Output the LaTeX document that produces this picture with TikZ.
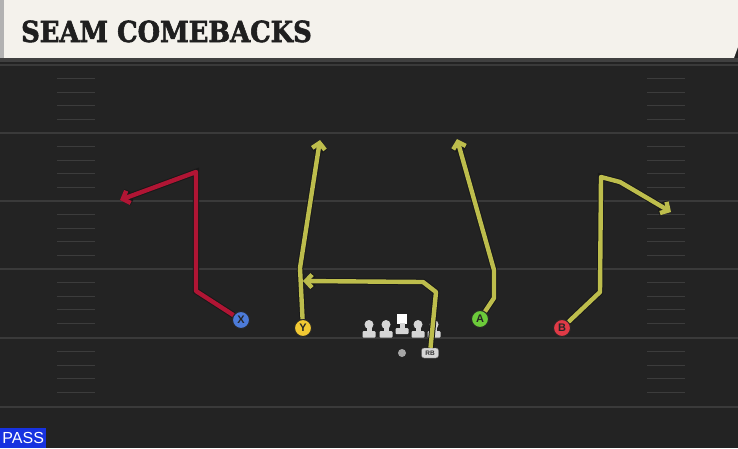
\documentclass[tikz,border=0pt]{standalone}
\usepackage{fontspec}
\setmainfont{Liberation Sans}
\newfontfamily\titlefont{DejaVu Serif}[FakeStretch=0.89, FakeBold=2]
\usetikzlibrary{arrows.meta}

\definecolor{fieldbg}{HTML}{232323}
\definecolor{yardgray}{HTML}{3A3A3A}
\definecolor{hashgray}{HTML}{3C3C3C}
\definecolor{headercream}{HTML}{F4F2EC}
\definecolor{passblue}{HTML}{1732E0}
\definecolor{xblue}{HTML}{4C7BD9}
\definecolor{yyellow}{HTML}{F2C933}
\definecolor{agreen}{HTML}{6CCB3A}
\definecolor{bred}{HTML}{E03A46}
\definecolor{redroute}{HTML}{B01534}
\definecolor{olroute}{HTML}{BDBD4C}
\definecolor{linegray}{HTML}{D6D6D6}

\begin{document}
\begin{tikzpicture}[x=1pt, y=-1pt,
    yard/.style={draw=yardgray, line width=1.4pt},
    hashmark/.style={draw=hashgray, line width=1.2pt},
    player/.style={circle, draw=black!85, line width=1pt, minimum size=17pt, inner sep=0pt,
        font=\bfseries\fontsize{11}{11}\selectfont, text=black!85},
    route/.style={line width=4.4pt, line join=round,
        -{Straight Barb[length=6pt, width=13pt]},
        preaction={draw=black!90, line width=6.4pt}},
    lineman/.style={fill=linegray}]
    \useasboundingbox (0,0) rectangle (738,448);
    \fill[fieldbg] (0,0) rectangle (738,448);

    % Header
    \fill[headercream] (4,0) -- (738,0) -- (738,47) -- (734,58) -- (4,58) -- cycle;
    \fill[gray!60] (0,0) rectangle (4,58);
    \fill[black!75] (0,58) rectangle (738,62);
    \node[anchor=base west, inner sep=0pt, text=black!88,
        font=\titlefont\bfseries\fontsize{29}{29}\selectfont] (title) at (21,42) {SEAM COMEBACKS};

    % Lignes de yards
    \foreach \y in {65,133,201,269,338,407}{
        \draw[yard] (0,\y) -- (738,\y);
    }
    % Hash marks
    \foreach \y in {65,133,201,269,338}{
        \foreach \k in {1,2,3,4}{
            \draw[hashmark] (57,\y+\k*13.6) -- (95,\y+\k*13.6);
            \draw[hashmark] (647,\y+\k*13.6) -- (685,\y+\k*13.6);
        }
    }

    % Ligne offensive
    \foreach \x in {369,386,418,434}{
        \fill[lineman] (\x,324.5) circle (4.5);
        \fill[lineman] (\x-2.5,325) rectangle (\x+2.5,333);
        \fill[lineman, rounded corners=1pt] (\x-6.5,331) rectangle (\x+6.5,337.5);
    }
    \fill[white] (397,313.5) rectangle (407,323.5);
    \fill[lineman] (399.5,323) rectangle (404.5,330);
    \fill[lineman, rounded corners=1pt] (395.5,328) rectangle (408.5,334);

    % Joueurs
    \node[player, fill=xblue] (X) at (241,320) {X};
    \node[player, fill=yyellow] (Y) at (303,328) {Y};
    \node[player, fill=agreen] (A) at (480,319) {A};
    \node[player, fill=bred] (B) at (562,328) {B};
    \node[circle, fill=gray!70, minimum size=8pt, inner sep=0pt] (QB) at (402,353) {};
    \node[draw=black!60, fill=linegray, rounded corners=2.5pt, minimum width=17pt, minimum height=10pt,
        inner sep=0pt, font=\bfseries\fontsize{6.5}{6.5}\selectfont, text=black!80] (RB) at (430,353) {RB};

    % Fins de routes
    \coordinate (xend) at (120,200);
    \coordinate (yend) at (320,140);
    \coordinate (rbend) at (303,281);
    \coordinate (aend) at (457,139);
    \coordinate (bend) at (671,212);

    % Routes
    \draw[route, redroute] (X) -- (196,291) -- (196,172) -- (xend);
    \draw[route, olroute] (Y) -- (300,268) -- (yend);
    \draw[route, olroute] (RB) -- (436,292) -- (423,282) -- (rbend);
    \draw[route, olroute] (A) -- (494,298) -- (494,270) -- (aend);
    \draw[route, olroute] (B) -- (600,292) -- (601,177) -- (620,182) -- (bend);

    % Etiquette
    \node[fill=passblue, text=white, anchor=south west, minimum width=46pt, minimum height=20pt,
        inner sep=0pt, font=\fontsize{16}{16}\selectfont] (pass) at (0,448) {PASS};
\end{tikzpicture}
\end{document}
